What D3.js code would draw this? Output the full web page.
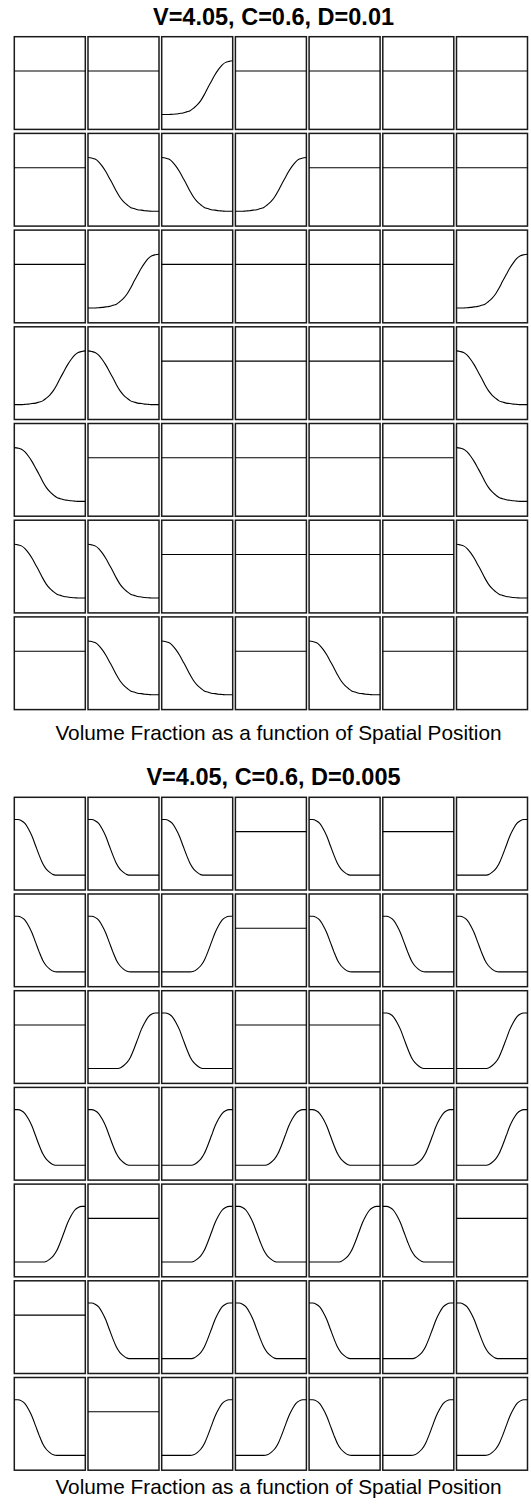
<!DOCTYPE html>
<html lang="en">
  <head>
    <meta charset="utf-8" />
    <title>Volume Fraction as a function of Spatial Position</title>
    <style>
      body,
      html {
        margin: 0;
        padding: 0;
        background: #ffffff;
      }
      svg text {
        font-family: "Liberation Sans", Arial, sans-serif;
        fill: #000;
      }
      .title {
        font-weight: bold;
        font-size: 23.5px;
      }
      .caption {
        font-size: 20.8px;
      }
      .cell rect {
        fill: #fff;
        stroke: #1a1a1a;
        stroke-width: 1.5;
      }
      .cell path {
        fill: none;
        stroke: #000;
        stroke-width: 1.1;
      }
    </style>
    <script src="https://d3js.org/d3.v7.min.js"></script>
  </head>
<body>
<svg width="531" height="1506"></svg>
<script>

// spatial position samples (same for every small plot)
var positions = [0, 0.05, 0.1, 0.15, 0.2, 0.25, 0.3, 0.35, 0.4, 0.45, 0.5,
                 0.55, 0.6, 0.65, 0.7, 0.75, 0.8, 0.85, 0.9, 0.95, 1];

var riseD01 = [0.16, 0.16, 0.16, 0.163, 0.166, 0.172, 0.177, 0.189, 0.201, 0.23, 0.264,
               0.311, 0.375, 0.45, 0.52, 0.589, 0.647, 0.694, 0.723, 0.734, 0.74];
var riseD005 = [0.16, 0.16, 0.16, 0.16, 0.16, 0.16, 0.16, 0.16, 0.16, 0.166, 0.19,
                0.226, 0.286, 0.376, 0.478, 0.58, 0.658, 0.718, 0.748, 0.76, 0.76];
// uniform volume fraction in the cells that did not separate
var flatLevel = 0.63;

// which profile each of the 7x7 plots shows: "-" flat, "/" rising, "\\" falling
var gridD01 = [
  ["-", "-", "/", "-", "-", "-", "-"],
  ["-", "\\", "\\", "/", "-", "-", "-"],
  ["-", "/", "-", "-", "-", "-", "/"],
  ["/", "\\", "-", "-", "-", "-", "\\"],
  ["\\", "-", "-", "-", "-", "-", "\\"],
  ["\\", "\\", "-", "-", "-", "-", "\\"],
  ["-", "\\", "\\", "-", "\\", "-", "-"]
];
var gridD005 = [
  ["\\", "\\", "\\", "-", "\\", "-", "/"],
  ["\\", "\\", "/", "-", "\\", "\\", "\\"],
  ["-", "/", "\\", "-", "-", "\\", "/"],
  ["\\", "\\", "/", "/", "\\", "/", "/"],
  ["/", "-", "/", "\\", "/", "\\", "-"],
  ["-", "\\", "/", "\\", "\\", "/", "\\"],
  ["\\", "-", "/", "/", "\\", "/", "/"]
];

var titles = ["V=4.05, C=0.6, D=0.01", "V=4.05, C=0.6, D=0.005"];
var caption = "Volume Fraction as a function of Spatial Position";

var svg = d3.select("svg");

var panels = [
  { title: titles[0], grid: gridD01, rise: riseD01, top: 36.7, titleY: 24.5, captionY: 740 },
  { title: titles[1], grid: gridD005, rise: riseD005, top: 797.3, titleY: 785, captionY: 1494 }
];

var index = d3.range(7);

panels.forEach(function(p) {
  var col = d3.scaleBand().domain(index).range([14.3, 527.5]).paddingInner(0.0366),
      row = d3.scaleBand().domain(index).range([p.top, p.top + 672.9]).paddingInner(0.0414);

  var x = d3.scaleLinear().domain([0, 1]).range([0, col.bandwidth()]),
      y = d3.scaleLinear().domain([0, 1]).range([row.bandwidth(), 0]);

  var line = d3.line()
      .x(function(d) { return x(d[0]); })
      .y(function(d) { return y(d[1]); })
      .curve(d3.curveMonotoneX);

  var fall = p.rise.slice().reverse();

  svg.append("text")
     .attr("class", "title")
     .attr("x", 273.5)
     .attr("y", p.titleY)
     .attr("text-anchor", "middle")
     .text(p.title);

  var cells = [];
  p.grid.forEach(function(r, i) {
    r.forEach(function(kind, j) {
      cells.push({ row: i, col: j, kind: kind });
    });
  });

  var g = svg.selectAll(null)
     .data(cells)
     .enter().append("g")
     .attr("class", "cell")
     .attr("transform", function(d) {
       return "translate(" + col(d.col) + "," + row(d.row) + ")";
     });

  g.append("rect")
   .attr("width", col.bandwidth())
   .attr("height", row.bandwidth());

  g.append("path")
   .attr("d", function(d) {
     var vals;
     if (d.kind === "/") vals = p.rise;
     else if (d.kind === "\\") vals = fall;
     else vals = positions.map(function() { return flatLevel; });
     return line(positions.map(function(t, k) { return [t, vals[k]]; }));
   });

  svg.append("text")
     .attr("class", "caption")
     .attr("x", 278.5)
     .attr("y", p.captionY)
     .attr("text-anchor", "middle")
     .text(caption);
});
</script>
</body>
</html>
